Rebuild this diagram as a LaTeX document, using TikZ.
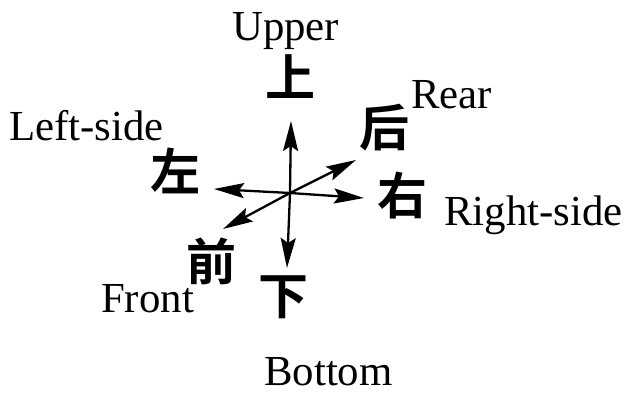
\documentclass[tikz,border=0pt]{standalone}
\usepackage{fontspec}
\setmainfont{Liberation Serif}
\newfontfamily\cjk{Noto Sans CJK SC}[BoldFont={Noto Sans CJK SC Bold}]
\usetikzlibrary{arrows.meta}
\begin{document}
\begin{tikzpicture}[x=1pt,y=-1pt,
  lbl/.style={anchor=base west,inner sep=0pt,font=\fontsize{42.8}{43}\selectfont},
  zh/.style={inner sep=0pt,font=\fontsize{50}{50}\selectfont\cjk\bfseries},
  arr/.style={line width=2.3pt,-{Stealth[length=30pt,width=15pt,inset=5pt]}}]
\useasboundingbox (0,0) rectangle (629,397);
% centre and tips
\coordinate (o) at (290,193);
\coordinate (tu) at (291,121);
\coordinate (td) at (287,268);
\coordinate (tl) at (214,189);
\coordinate (tr) at (364,198);
\coordinate (tb) at (356,160);
\coordinate (tf) at (223,229);
\draw[arr] (o) -- (tu);
\draw[arr] (o) -- (td);
\draw[arr] (o) -- (tl);
\draw[arr] (o) -- (tr);
\draw[arr] (o) -- (tb);
\draw[arr] (o) -- (tf);
% Chinese labels
\node[zh] (shang) at (290,77) {上};
\node[zh] (xia) at (283,297) {下};
\node[zh] (zuo) at (175,171) {左};
\node[zh] (you) at (402,196) {右};
\node[zh] (hou) at (384,128) {后};
\node[zh] (qian) at (211,261) {前};
% English labels
\node[lbl] (upper) at (232,40) {Upper};
\node[lbl] (leftside) at (9,140) {Left-side};
\node[lbl] (rear) at (411,108) {Rear};
\node[lbl] (rightside) at (444,225) {Right-side};
\node[lbl] (front) at (101,312) {Front};
\node[lbl] (bottom) at (264,385) {Bottom};
\end{tikzpicture}
\end{document}
